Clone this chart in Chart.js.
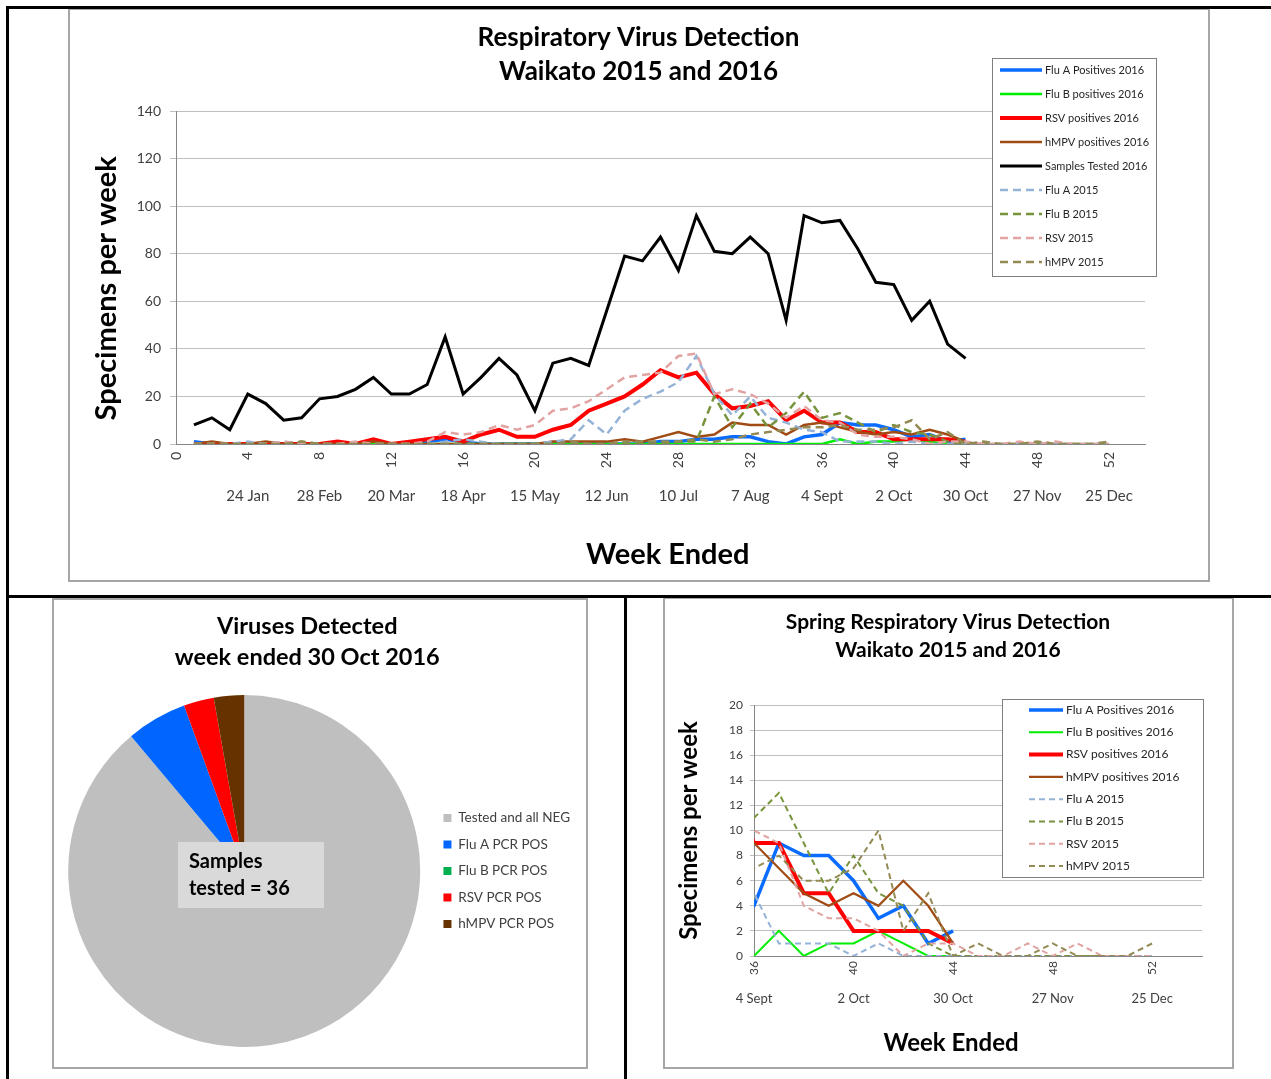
<!DOCTYPE html>
<html>
<head>
<meta charset="utf-8">
<title>Respiratory Virus Detection Waikato 2015 and 2016</title>
<script src="https://cdn.jsdelivr.net/npm/chart.js@4.4.1/dist/chart.umd.min.js"></script>
<style>
  body { margin: 0; background: #fff; width: 1271px; height: 1079px; position: relative; overflow: hidden; }
  .frame { position: absolute; border: 2px solid #a6a6a6; box-sizing: border-box; }
  .rule { position: absolute; background: #000; }
  canvas { position: absolute; }
</style>
</head>
<body>
<div class="frame" style="left:68px;top:8px;width:1142px;height:574px"></div>
<div class="frame" style="left:52px;top:598px;width:536px;height:471px"></div>
<div class="frame" style="left:663px;top:597px;width:571px;height:472px"></div>
<canvas id="mainChart" width="1141" height="573" style="left:68px;top:8px"></canvas>
<canvas id="pieChart" width="535" height="469" style="left:52px;top:599px"></canvas>
<canvas id="springChart" width="568" height="470" style="left:664px;top:598px"></canvas>
<div class="rule" style="left:6px;top:6px;width:1265px;height:3px"></div>
<div class="rule" style="left:6px;top:6px;width:3px;height:1073px"></div>
<div class="rule" style="left:6px;top:595px;width:1265px;height:3px"></div>
<div class="rule" style="left:624px;top:595px;width:3px;height:484px"></div>
<script>
// week numbers (week ended), 2016 data stops at week 44
let weeks = [1,2,3,4,5,6,7,8,9,10,11,12,13,14,15,16,17,18,19,20,21,22,23,24,25,26,
             27,28,29,30,31,32,33,34,35,36,37,38,39,40,41,42,43,44,45,46,47,48,49,50,51,52];
let weekEndedLabels = ['', '24 Jan', '28 Feb', '20 Mar', '18 Apr', '15 May', '12 Jun',
                       '10 Jul', '7 Aug', '4 Sept', '2 Oct', '30 Oct', '27 Nov', '25 Dec'];

let fluA2016 = [1,0,0,0,0,0,0,0,0,0,0,0,0,1,2,1,0,0,0,0,0,0,0,0,0,0,1,1,2,2,3,3,1,0,3,4,9,8,8,6,3,4,1,2];
let fluB2016 = [0,0,0,0,0,0,0,0,0,0,0,0,0,0,0,0,0,0,0,0,0,0,0,0,0,0,0,0,0,0,0,0,0,0,0,0,2,0,1,1,2,1,0,0];
let rsv2016 = [0,0,0,0,0,0,0,0,1,0,2,0,1,2,3,1,4,6,3,3,6,8,14,17,20,25,31,28,30,21,15,16,18,10,14,9,9,5,5,2,2,2,2,1];
let hmpv2016 = [0,1,0,0,1,0,0,0,0,0,1,0,0,0,0,0,0,0,0,0,1,1,1,1,2,1,3,5,3,4,9,8,8,4,8,9,7,5,4,5,4,6,4,1];
let samples2016 = [8,11,6,21,17,10,11,19,20,23,28,21,21,25,45,21,28,36,29,14,34,36,33,56,79,77,87,73,96,81,
                   80,87,80,52,96,93,94,82,68,67,52,60,42,36];

let fluA2015 = [0,0,0,1,0,1,0,0,0,0,0,0,0,0,1,2,1,0,0,0,1,2,10,4,14,19,22,26,37,21,12,20,11,9,6,5,1,1,1,0,1,0,0,0,0,0,0,0,0,0,0,0];
let fluB2015 = [0,0,0,0,0,0,1,0,0,0,0,0,0,0,0,0,0,0,0,0,0,0,0,0,0,0,0,1,1,20,7,17,7,13,22,11,13,9,5,8,5,4,1,0,0,0,0,0,0,0,0,0];
let rsv2015 = [0,0,0,0,0,1,0,0,0,1,0,0,0,1,5,4,5,8,6,8,14,15,18,23,28,29,30,37,38,21,23,21,17,11,16,10,9,4,3,3,2,0,1,1,0,0,1,0,1,0,0,0];
let hmpv2015 = [0,0,0,0,0,0,1,0,0,0,0,0,0,0,0,0,0,0,0,0,0,1,0,0,1,1,1,1,2,1,2,4,5,6,7,7,8,6,6,7,10,2,5,0,1,0,0,1,0,0,0,1];

let pieLabels = ['Tested and all NEG', 'Flu A PCR POS', 'Flu B PCR POS', 'RSV PCR POS', 'hMPV PCR POS'];
let pieValues = [32, 2, 0, 1, 1];
let samplesTested = 36;

Chart.defaults.font.family = 'Lato, "Open Sans", sans-serif';
Chart.defaults.color = '#404040';

function toPoints(arr) {
    return arr.map((v, i) => ({x: weeks[i], y: v}));
}

let series = [
    {label: 'Flu A Positives 2016', values: fluA2016, color: '#0a6cff', width: 3.5, sw: 3.5},
    {label: 'Flu B positives 2016', values: fluB2016, color: '#00ee00', width: 2.5, sw: 2},
    {label: 'RSV positives 2016', values: rsv2016, color: '#ff0000', width: 4, sw: 4},
    {label: 'hMPV positives 2016', values: hmpv2016, color: '#a04b14', width: 2.5, sw: 2.2},
    {label: 'Samples Tested 2016', values: samples2016, color: '#000000', width: 3, sw: 3, mainOnly: true},
    {label: 'Flu A 2015', values: fluA2015, color: '#95b3d7', width: 2.5, sw: 2, dash: true},
    {label: 'Flu B 2015', values: fluB2015, color: '#77933c', width: 2.5, sw: 2, dash: true},
    {label: 'RSV 2015', values: rsv2015, color: '#e2a3a3', width: 2.5, sw: 2, dash: true},
    {label: 'hMPV 2015', values: hmpv2015, color: '#948a54', width: 2.5, sw: 2, dash: true}
];

// legend drawn over the plot, inside a white box, like the original
const boxLegend = {
    id: 'boxLegend',
    afterDraw(chart, args, o) {
        const ctx = chart.ctx;
        ctx.save();
        ctx.fillStyle = '#fff';
        ctx.fillRect(o.box[0], o.box[1], o.box[2], o.box[3]);
        ctx.strokeStyle = '#7f7f7f';
        ctx.lineWidth = 1;
        ctx.strokeRect(o.box[0] + 0.5, o.box[1] + 0.5, o.box[2], o.box[3]);
        ctx.font = o.font;
        ctx.textBaseline = 'middle';
        chart.data.datasets.forEach((ds, i) => {
            const y = o.y + i * o.step;
            ctx.strokeStyle = ds.borderColor;
            ctx.lineWidth = ds.borderWidth;
            ctx.setLineDash(ds.borderDash || []);
            ctx.beginPath();
            ctx.moveTo(o.x, y);
            ctx.lineTo(o.x + o.len, y);
            ctx.stroke();
            ctx.setLineDash([]);
            ctx.fillStyle = '#262626';
            ctx.fillText(ds.label, o.textX, y);
        });
        ctx.restore();
    }
};

function makeDatasets(spring) {
    return series.filter(s => !(spring && s.mainOnly)).map((s, i) => ({
        label: s.label,
        data: toPoints(s.values),
        borderColor: s.color,
        backgroundColor: s.color,
        borderWidth: spring ? s.sw : s.width,
        borderDash: s.dash ? (spring ? [6, 4] : [8, 5]) : [],
        pointRadius: 0,
        fill: false,
        tension: 0,
        order: -i,
        xAxisID: 'x',
        yAxisID: 'y'
    }));
}

new Chart(document.getElementById('mainChart'), {
    type: 'line',
    data: {datasets: makeDatasets(false)},
    options: {
        responsive: false,
        animation: false,
        layout: {padding: 0},
        plugins: {
            legend: {display: false},
            tooltip: {enabled: false},
            title: {
                display: true,
                text: ['Respiratory Virus Detection', 'Waikato 2015 and 2016'],
                color: '#000',
                font: {size: 26, weight: 'bold', lineHeight: '34px'},
                padding: {top: 13, bottom: 22}
            },
            boxLegend: {box: [924, 50, 164, 218], x: 932, len: 42, textX: 977, y: 62, step: 24, font: '11px Lato, sans-serif'}
        },
        scales: {
            x: {
                type: 'linear', position: 'bottom', min: 0, max: 54, weight: 0,
                grid: {display: false, drawTicks: false},
                border: {display: true, color: '#868686'},
                ticks: {stepSize: 4, includeBounds: false, autoSkip: false, minRotation: 90, maxRotation: 90,
                        padding: 8, font: {size: 14}, callback: v => v % 4 === 0 ? v : ''},
                afterFit: s => { s.height = 38; }
            },
            x2: {
                type: 'linear', position: 'bottom', min: 0, max: 54, weight: 1,
                grid: {display: false, drawTicks: false},
                border: {display: false},
                ticks: {stepSize: 4, includeBounds: false, autoSkip: false, minRotation: 0, maxRotation: 0,
                        padding: 5, font: {size: 15}, callback: v => v % 4 === 0 ? (weekEndedLabels[v / 4] || '') : ''},
                title: {display: true, text: '\u2002Week Ended', color: '#000', font: {size: 29, weight: 'bold'}, padding: {top: 0, bottom: 8.6}},
                afterFit: s => { s.height = 99; }
            },
            y: {
                type: 'linear', position: 'left', min: 0, max: 140,
                grid: {color: '#bfbfbf', tickLength: 6},
                border: {color: '#868686'},
                ticks: {stepSize: 20, padding: 9, font: {size: 14}},
                title: {display: true, text: 'Specimens per week\u2003', color: '#000', font: {size: 29, weight: 'bold'}, padding: {top: 21.6, bottom: 0}},
                afterFit: s => { s.width = 108; }
            },
            yR: {
                type: 'linear', position: 'right', min: 0, max: 140,
                grid: {display: false}, border: {display: false}, ticks: {display: false},
                afterFit: s => { s.width = 64; }
            }
        }
    },
    plugins: [boxLegend]
});

const sampleLabel = {
    id: 'sampleLabel',
    afterDatasetsDraw(chart) {
        const ctx = chart.ctx;
        ctx.save();
        ctx.fillStyle = '#d9d9d9';
        ctx.fillRect(126, 243, 146, 66);
        ctx.fillStyle = '#000';
        ctx.font = 'bold 20px Lato, sans-serif';
        ctx.textBaseline = 'middle';
        ctx.fillText('Samples', 137, 263);
        ctx.fillText('tested = ' + samplesTested, 137, 290);
        ctx.restore();
    }
};

new Chart(document.getElementById('pieChart'), {
    type: 'pie',
    data: {
        labels: pieLabels,
        datasets: [{
            data: pieValues,
            backgroundColor: ['#bfbfbf', '#0066ff', '#00b050', '#ff0000', '#663300'],
            borderWidth: 0
        }]
    },
    options: {
        responsive: false,
        animation: false,
        layout: {padding: {left: 6, right: 7, top: 0, bottom: 21}},
        plugins: {
            tooltip: {enabled: false},
            title: {
                display: true,
                text: ['Viruses Detected\u2002\u2002', 'week ended 30 Oct 2016\u2002\u2002'],
                color: '#000',
                font: {size: 23.5, weight: 'bold', lineHeight: '31px'},
                padding: {top: 11.5, bottom: 22.5}
            },
            legend: {
                position: 'right',
                fullSize: false,
                maxWidth: 152,
                labels: {boxWidth: 8, boxHeight: 8, padding: 13, color: '#404040', font: {size: 13.5}}
            }
        }
    },
    plugins: [sampleLabel]
});

new Chart(document.getElementById('springChart'), {
    type: 'line',
    data: {datasets: makeDatasets(true)},
    options: {
        responsive: false,
        animation: false,
        layout: {padding: 0},
        plugins: {
            legend: {display: false},
            tooltip: {enabled: false},
            title: {
                display: true,
                text: ['Spring Respiratory Virus Detection', 'Waikato 2015 and 2016'],
                color: '#000',
                font: {size: 21, weight: 'bold', lineHeight: '28px'},
                padding: {top: 10, bottom: 41}
            },
            boxLegend: {box: [338, 101, 201, 178], x: 365, len: 34, textX: 402, y: 112, step: 22.3, font: '12px Lato, sans-serif'}
        },
        scales: {
            x: {
                type: 'linear', position: 'bottom', min: 36, max: 54, weight: 0,
                grid: {display: false, drawTicks: false},
                border: {display: true, color: '#868686'},
                ticks: {stepSize: 4, includeBounds: false, autoSkip: false, minRotation: 90, maxRotation: 90,
                        padding: 5, font: {size: 12}, callback: v => v % 4 === 0 ? v : ''},
                afterFit: s => { s.height = 30; }
            },
            x2: {
                type: 'linear', position: 'bottom', min: 36, max: 54, weight: 1,
                grid: {display: false, drawTicks: false},
                border: {display: false},
                ticks: {stepSize: 4, includeBounds: false, autoSkip: false, minRotation: 0, maxRotation: 0,
                        padding: 5, font: {size: 13}, callback: v => v % 4 === 0 ? (weekEndedLabels[v / 4] || '') : ''},
                title: {display: true, text: 'Week Ended\u2003\u2003\u2003', color: '#000', font: {size: 24, weight: 'bold'}, padding: {top: 0, bottom: 10.6}},
                afterFit: s => { s.height = 82; }
            },
            y: {
                type: 'linear', position: 'left', min: 0, max: 20,
                grid: {color: '#bfbfbf', tickLength: 4},
                border: {color: '#868686'},
                ticks: {stepSize: 2, padding: 7, font: {size: 12}},
                title: {display: true, text: 'Specimens per week', color: '#000', font: {size: 24, weight: 'bold'}, padding: {top: 10.6, bottom: 0}},
                afterFit: s => { s.width = 90; }
            },
            yR: {
                type: 'linear', position: 'right', min: 0, max: 20,
                grid: {display: false}, border: {display: false}, ticks: {display: false},
                afterFit: s => { s.width = 30; }
            }
        }
    },
    plugins: [boxLegend]
});
</script>
</body>
</html>
